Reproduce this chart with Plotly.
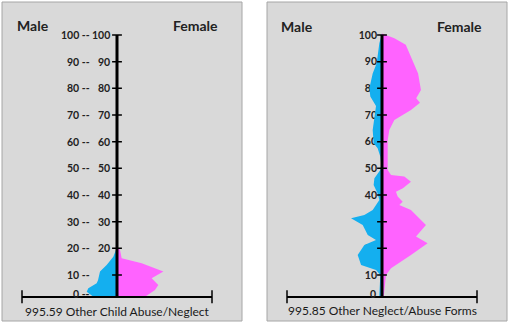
import plotly.graph_objects as go

# ---------------- data ----------------
tick_vals = [0, 10, 20, 30, 40, 50, 60, 70, 80, 90, 100]

left_title = "995.59 Other Child Abuse/Neglect"
right_title = "995.85 Other Neglect/Abuse Forms"

left_male_age = [20.4, 16.9, 13.8, 11.3, 8.0, 6.9, 5.0, 3.75, 1.9]
left_male_val = [0, 0.39, 1.09, 1.79, 2.0, 2.14, 3.02, 3.19, 2.49]

left_female_age = [20.4, 19.4, 16.3, 14.4, 11.3, 8.75, 6.25, 4.4, 1.9]
left_female_val = [0, 0.32, 0.49, 2.6, 4.88, 3.65, 4.35, 4.0, 2.95]

right_male_age = [100.6, 96.9, 89.4, 85.6, 80.0, 76.9, 73.4, 69.4, 64.4, 59.4, 57.5,
                  54.4, 51.3, 49.4, 46.3, 43.8, 40.6, 38.1, 34.4, 32.5, 31.3, 28.8,
                  25.0, 23.1, 21.3, 17.5, 13.8, 11.9, 10.0, 2.5, 1.9]
right_male_val = [0, 0.28, 0.56, 0.98, 1.33, 1.23, 0.63, 0.8, 0.98, 0.88, 0.46,
                  0.18, 0.07, 0.18, 0.8, 0.88, 0.46, 0.28, 0.98, 1.86, 3.26, 2.03,
                  1.5, 0.63, 1.86, 2.56, 2.2, 0.63, 0.18, 0.28, 0.28]

right_female_age = [100.6, 98.8, 96.3, 90.6, 85.6, 79.4, 76.3, 74.6, 71.9, 68.1, 64.4,
                    60.6, 53.1, 49.4, 47.5, 46.9, 45.0, 42.5, 41.2, 39.4, 37.5, 36.3,
                    34.4, 28.8, 24.4, 21.9, 17.5, 12.5, 10.0, 5.6, 1.9]
right_female_val = [0, 1.3, 2.5, 3.2, 3.8, 4.1, 3.6, 4.0, 3.05, 1.3, 0.77,
                    0.6, 0.6, 0.6, 0.95, 2.35, 3.05, 2.2, 1.47, 1.65, 2.18, 1.82,
                    3.05, 4.63, 3.58, 4.8, 3.05, 0.95, 0.42, 0.25, 0.18]

# right panel: regular tick labels (its 0 label sits on the horizontal axis)
axis_tick_text = ["" if v == 0 else str(v) for v in tick_vals]
# left panel: two label sets, "NN --" and "NN" (the inner 10 and 0 are hidden
# behind the male area in the original)
left_outer_text = [f"{v} --" for v in tick_vals]
left_inner_vals = [20, 30, 40, 50, 60, 70, 80, 90, 100]

# ---------------- style / layout constants ----------------
W, H = 510, 324
BLUE = "#14AFEF"
PINK = "#FF63FF"
PANEL = "#D9D9D9"
BORDER = "#A6A6A6"
FONT = "Lato"
XR = [-10.5, 10.5]
YR = [-3, 103]
X_AXIS_LEVEL = 1.76   # age level where horizontal axis line is drawn
X_END = 10
OUTER_LABEL_X = -2.75 # right edge of the "NN --" label set (data units)
INNER_LABEL_X = -0.6  # right edge of the inner label set (data units)
ZERO_LABEL_X = -0.55  # right edge of the right-panel "0" label (data units)

def px(x):
    return x / W

def py(y):
    return (H - y) / H

ydom = [py(309.7), py(27.0)]
left_dom = [px(17.25), px(216.75)]
right_dom = [px(282.25), px(481.75)]

fig = go.Figure()

def add_fills(xa, ya, m_age, m_val, f_age, f_val):
    fig.add_trace(go.Scatter(x=[-v for v in m_val], y=m_age, mode="lines",
                             fill="tozerox", fillcolor=BLUE,
                             line=dict(width=0, color=BLUE),
                             xaxis=xa, yaxis=ya, hoverinfo="skip", showlegend=False))
    fig.add_trace(go.Scatter(x=f_val, y=f_age, mode="lines",
                             fill="tozerox", fillcolor=PINK,
                             line=dict(width=0, color=PINK),
                             xaxis=xa, yaxis=ya, hoverinfo="skip", showlegend=False))

add_fills("x", "y", left_male_age, left_male_val, left_female_age, left_female_val)
add_fills("x2", "y2", right_male_age, right_male_val, right_female_age, right_female_val)

# tick marks crossing the vertical axis (the 0 tick coincides with the base line)
mark_vals = [v for v in tick_vals if v > 0]
for xa, ya in (("x", "y"), ("x2", "y2")):
    fig.add_trace(go.Scatter(x=[0] * len(mark_vals), y=mark_vals, mode="markers",
                             marker=dict(symbol="line-ew", size=7,
                                         line=dict(width=1.5, color="black")),
                             xaxis=xa, yaxis=ya, hoverinfo="skip", showlegend=False))

shapes = []
# panel backgrounds
for x0, x1 in ((2, 242), (267, 507)):
    shapes.append(dict(type="rect", xref="paper", yref="paper",
                       x0=px(x0), x1=px(x1), y0=py(321), y1=py(2),
                       fillcolor=PANEL, line=dict(color=BORDER, width=1), layer="below"))
for xr, yr in (("x", "y"), ("x2", "y2")):
    shapes.append(dict(type="line", xref=xr, yref=yr, x0=0, x1=0,
                       y0=X_AXIS_LEVEL, y1=100, line=dict(color="black", width=3),
                       layer="above"))
    shapes.append(dict(type="line", xref=xr, yref=yr, x0=-X_END, x1=X_END,
                       y0=X_AXIS_LEVEL, y1=X_AXIS_LEVEL,
                       line=dict(color="black", width=2), layer="above"))
    for xe in (-X_END, X_END):
        shapes.append(dict(type="line", xref=xr, yref=yr, x0=xe, x1=xe,
                           y0=-0.6, y1=4.3, line=dict(color="black", width=1.5),
                           layer="above"))

title_font = dict(family=FONT, size=14, color="#222222", weight="bold")
sub_font = dict(family=FONT, size=12, color="#1A1A1A")
tickfont = dict(family=FONT, size=10.5, color="#222222", weight="bold")

annotations = [
    dict(text="Male", x=px(33), y=py(25), font=title_font),
    dict(text="Female", x=px(195), y=py(25), font=title_font),
    dict(text="Male", x=px(297), y=py(26), font=title_font),
    dict(text="Female", x=px(459), y=py(26), font=title_font),
    dict(text=left_title, x=px(117), y=py(311), font=sub_font),
    dict(text=right_title, x=px(382), y=py(310), font=sub_font),
]
for a in annotations:
    a.update(xref="paper", yref="paper", showarrow=False,
             xanchor="center", yanchor="middle")

def tick_note(text, x, y, xref, yref, yshift=0):
    return dict(text=text, x=x, y=y, yshift=yshift, xref=xref, yref=yref,
                showarrow=False, xanchor="right", yanchor="middle", font=tickfont,
                borderpad=0)

for v, t in zip(tick_vals, left_outer_text):
    annotations.append(tick_note(t, OUTER_LABEL_X, max(v, X_AXIS_LEVEL), "x", "y",
                                 3 if v == 0 else 0))
for v in left_inner_vals:
    annotations.append(tick_note(str(v), INNER_LABEL_X, v, "x", "y"))
annotations.append(tick_note(str(tick_vals[0]), ZERO_LABEL_X, X_AXIS_LEVEL,
                             "x2", "y2", 3))

fig.update_layout(
    width=W, height=H,
    margin=dict(l=0, r=0, t=0, b=0),
    paper_bgcolor="white",
    plot_bgcolor="rgba(0,0,0,0)",
    showlegend=False,
    shapes=shapes,
    annotations=annotations,
    xaxis=dict(domain=left_dom, range=XR, visible=False, anchor="y"),
    xaxis2=dict(domain=right_dom, range=XR, visible=False, anchor="y2"),
    yaxis=dict(range=YR, domain=ydom, visible=False, fixedrange=True),
    yaxis2=dict(range=YR, domain=ydom, showgrid=False, zeroline=False,
                showline=False, ticks="", tickmode="array", tickvals=tick_vals,
                ticktext=axis_tick_text, tickfont=tickfont, layer="below traces",
                anchor="free", position=px(382), ticklabelstandoff=5,
                fixedrange=True),
)

fig.write_html("out.html")
